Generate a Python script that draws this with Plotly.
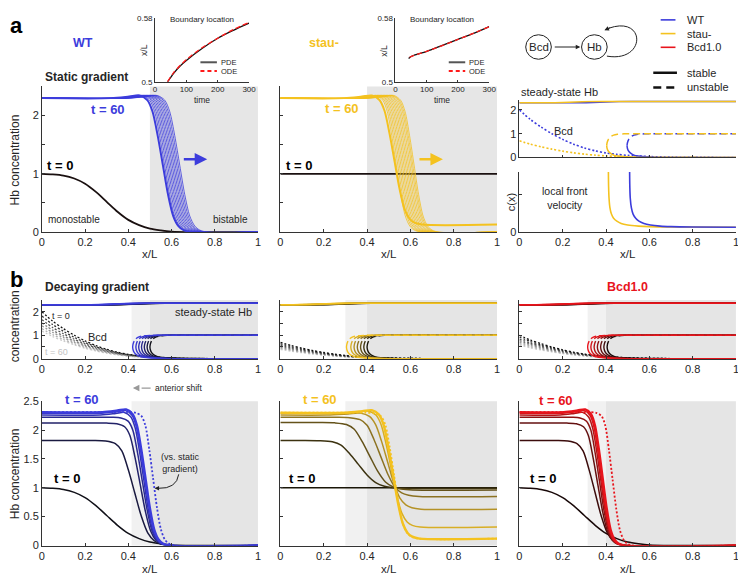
import plotly.graph_objects as go

W, H = 746, 582
OFF = 8  # the page body margin pushes the figure 8 px right and down
FONT = "Liberation Sans, Arial, Helvetica, sans-serif"

BLUE = "#3c3cdc"
YELLOW = "#f4c21f"
RED = "#e8141c"
INK = "#262626"

# ---------------- data ----------------
# Hb at t = 0 (graded Bcd input, WT / Bcd1.0)
t0_x = [0, 0.05, 0.1, 0.15, 0.2, 0.25, 0.3, 0.35, 0.4, 0.45, 0.5, 0.55, 0.6, 0.7, 1.0]
t0_y = [1.0, 0.99, 0.97, 0.92, 0.83, 0.69, 0.52, 0.35, 0.21, 0.12, 0.06, 0.03, 0.01, 0.0, 0.0]

# normalised front shape: offset in front widths -> fraction of the plateau
front_d = [-4.0, -2.6, -1.8, -1.2, -0.8, -0.4, 0.0, 0.4, 0.8, 1.2, 1.6, 2.2]
front_bump = [1.0, 1.012, 1.02, 0.985, 0.9, 0.72, 0.5, 0.28, 0.12, 0.045, 0.015, 0.0]
front_plain = [1.0, 1.0, 0.995, 0.97, 0.9, 0.72, 0.5, 0.28, 0.12, 0.045, 0.015, 0.0]

# a: static gradient, successive front positions
wt_static_mid = [0.56, 0.568, 0.575, 0.582, 0.589, 0.596, 0.603, 0.61, 0.617, 0.624, 0.631, 0.638]
wt_static_w = [0.06, 0.058, 0.058, 0.058, 0.058, 0.058, 0.058, 0.058, 0.058, 0.058, 0.058, 0.058]
stau_static_mid = [0.527, 0.535, 0.542, 0.549, 0.556, 0.563, 0.57, 0.577, 0.584, 0.591, 0.598, 0.605, 0.611, 0.617]
stau_static_floor = [0.13, 0, 0, 0, 0, 0, 0, 0, 0, 0, 0, 0, 0, 0]
stau_static_w = [0.058, 0.052, 0.052, 0.052, 0.052, 0.052, 0.052, 0.052, 0.052, 0.052, 0.052, 0.052, 0.052, 0.052]

# insets: boundary location vs time
wt_pde_t = [40, 60, 80, 100, 150, 200, 250, 300]
wt_pde_x = [0.5, 0.511, 0.52, 0.527, 0.542, 0.555, 0.565, 0.574]
wt_ode_t = [40, 60, 100, 150, 200, 250, 300]
wt_ode_x = [0.5, 0.512, 0.528, 0.543, 0.555, 0.566, 0.575]
stau_pde_t = [42, 50, 60, 100, 150, 200, 250, 300]
stau_pde_x = [0.5296, 0.532, 0.5336, 0.5384, 0.546, 0.5536, 0.561, 0.5696]
stau_ode_t = [45, 60, 100, 200, 300]
stau_ode_x = [0.531, 0.5335, 0.5385, 0.5535, 0.5695]

# Bcd profile (normalised)
bcd_x = [0, 0.05, 0.1, 0.15, 0.2, 0.25, 0.3, 0.35, 0.4, 0.45, 0.5, 0.6, 0.7, 0.85, 1.0]
bcd_p = [1.0, 0.8, 0.64, 0.5, 0.38, 0.28, 0.2, 0.14, 0.095, 0.065, 0.045, 0.02, 0.008, 0.002, 0.0]

# steady-state Hb: high branch rise, fold (unstable upper / stable lower)
hb_dx = [-0.12, -0.06, 0.0, 0.06, 0.12]
hb_y = [2.30, 2.31, 2.33, 2.35, 2.36]
fold_dx = [0, 0.002, 0.008, 0.018, 0.032, 0.05, 0.08, 0.12, 0.2]
fold_up = [0.5, 0.62, 0.76, 0.87, 0.94, 0.975, 0.995, 1.0, 1.0]
fold_lo = [0.5, 0.38, 0.26, 0.17, 0.1, 0.06, 0.03, 0.01, 0.0]

ss_rise = {"WT": 0.4, "stau-": 0.26}
ss_bcd = {"WT": 2.0, "stau-": 0.7}
ss_fold = {"WT": 0.497, "stau-": 0.403}

# local front velocity
vel_wt_x = [0.509, 0.51, 0.512, 0.517, 0.525, 0.537, 0.552, 0.575, 0.605, 0.65, 0.7, 0.8, 1.0]
vel_stau_x = [0.411, 0.412, 0.414, 0.418, 0.425, 0.435, 0.45, 0.47, 0.5, 0.55, 0.6, 0.7, 1.0]
vel_y = [1.6, 1.2, 0.9, 0.65, 0.48, 0.37, 0.29, 0.23, 0.19, 0.16, 0.145, 0.135, 0.13]

# b: decaying gradient, t = 0 ... 60
wt7 = ["#101018", "#1a1a40", "#222268", "#2a2a90", "#3232b4", "#3838cc", BLUE]
stau7 = ["#1a1608", "#3c3210", "#64521a", "#8c7222", "#b49226", "#d8ae24", YELLOW]
red7 = ["#180808", "#3c0c0c", "#641010", "#8c1212", "#b41416", "#d41418", RED]
gray7 = ["#111111", "#333333", "#555555", "#777777", "#999999", "#b3b3b3", "#cccccc"]

b_bcd_amp = {"WT": [2.0, 1.82, 1.66, 1.52, 1.4, 1.28, 1.18],
             "stau-": [0.7, 0.64, 0.58, 0.53, 0.48, 0.44, 0.4],
             "Bcd1.0": [1.0, 0.92, 0.84, 0.77, 0.7, 0.64, 0.58]}
b_fold = {"WT": [0.5, 0.487, 0.474, 0.461, 0.448, 0.435, 0.42],
          "stau-": [0.4, 0.385, 0.37, 0.355, 0.34, 0.325, 0.305],
          "Bcd1.0": [0.405, 0.39, 0.375, 0.36, 0.345, 0.33, 0.315]}
b_rise = {"WT": [0.45, 0.43, 0.41, 0.39, 0.37, 0.35, 0.33],
          "stau-": [0.3, 0.28, 0.26, 0.24, 0.22, 0.2, 0.18],
          "Bcd1.0": [0.32, 0.3, 0.28, 0.26, 0.24, 0.22, 0.2]}

wt_dec_L = [1.82, 2.12, 2.22, 2.26, 2.29, 2.31]
wt_dec_mid = [0.43, 0.455, 0.465, 0.472, 0.477, 0.48]
wt_dec_w = [0.075, 0.06, 0.055, 0.05, 0.05, 0.05]
stau_dec_L = [1.82, 2.13, 2.22, 2.26, 2.29, 2.3]
stau_dec_R = [0.99, 0.96, 0.85, 0.63, 0.32, 0.12]
stau_dec_mid = [0.36, 0.413, 0.464, 0.495, 0.513, 0.521]
stau_dec_w = [0.1, 0.09, 0.08, 0.07, 0.06, 0.055]
bcd1_dec_L = [1.82, 2.12, 2.22, 2.26, 2.29, 2.31]
bcd1_dec_mid = [0.35, 0.362, 0.37, 0.376, 0.38, 0.385]
bcd1_dec_w = [0.07, 0.055, 0.05, 0.047, 0.045, 0.045]
static_ref = {"WT": (2.31, 0.0, 0.515, 0.045), "stau-": (2.3, 0.12, 0.525, 0.05), "Bcd1.0": (2.31, 0.0, 0.43, 0.042)}

# ---------------- helpers ----------------
fig = go.Figure()


def ax_id(k):
    return ("x" if k == 1 else f"x{k}"), ("y" if k == 1 else f"y{k}")


def add_line(k, x, y, color, width=1.2, dash=None, shape="spline"):
    xa, ya = ax_id(k)
    fig.add_trace(go.Scatter(x=list(x), y=list(y), mode="lines", xaxis=xa, yaxis=ya,
                             line=dict(color=color, width=width, dash=dash, shape=shape, smoothing=0.8),
                             hoverinfo="skip", showlegend=False))


def front_curve(L, R, m, w, bump=False):
    f = front_bump if bump else front_plain
    xs, ys = [0.0], [L]
    for d, v in zip(front_d, f):
        x = m + d * w
        if 0 < x < 1:
            xs.append(x)
            ys.append(R + (L - R) * v)
    xs.append(1.0)
    ys.append(R)
    return xs, ys


def high_branch(c):
    return [0.0] + [c + d for d in hb_dx] + [1.0], [hb_y[0]] + hb_y + [hb_y[-1]]


def fold(xf):
    xs = [xf + d for d in fold_dx] + [1.0]
    return xs, fold_up + [1.0], fold_lo + [0.0]


def px_x(p):
    return (p - OFF) / W


def px_y(p):
    return 1 - (p - OFF) / H


def txt(x, y, s, size=11, color=INK, bold=False, anchor="center", angle=0):
    fig.add_annotation(x=px_x(x), y=px_y(y), xref="paper", yref="paper",
                       text=f"<b>{s}</b>" if bold else s, showarrow=False,
                       xanchor=anchor, yanchor="middle", textangle=angle,
                       font=dict(size=size, color=color, family=FONT))


def pline(x0, y0, x1, y1, color, width, dash=None):
    fig.add_shape(type="line", xref="paper", yref="paper", x0=px_x(x0), y0=px_y(y0),
                  x1=px_x(x1), y1=px_y(y1), line=dict(color=color, width=width, dash=dash))


def shade(k, x0, x1, color):
    xa, ya = ax_id(k)
    fig.add_shape(type="rect", xref=xa, yref=f"{ya} domain", x0=x0, x1=x1, y0=0, y1=1,
                  fillcolor=color, line_width=0, layer="below")


# ---------------- axes ----------------
COLS = [(39.3, 258.3), (281.0, 500.7), (523.3, 742.8)]
XT = [0, 0.2, 0.4, 0.6, 0.8, 1]
XL = ["0", "0.2", "0.4", "0.6", "0.8", "1"]
Y5 = [0, 0.5, 1, 1.5, 2]
Y6 = [0, 0.5, 1, 1.5, 2, 2.5]

panels = {
    1: dict(c=COLS[0], r=(82, 230.7), yr=[0, 2.5], yt=Y5, yl=["0", "", "1", "", "2"]),
    2: dict(c=COLS[1], r=(82, 230.7), yr=[0, 2.5], yt=Y5, yl=[""] * 5),
    3: dict(c=COLS[2], r=(96.2, 154.5), yr=[0, 2.4], yt=[0, 1, 2], yl=["0", "1", "2"], xtl=[""] * 6),
    4: dict(c=COLS[2], r=(169.3, 230.7), yr=[0, 1.6], yt=[0, 1], yl=["0", ""]),
    5: dict(c=(154, 249.3), r=(12.5, 77.3), xr=[0, 300], xt=[0, 100, 200, 300],
            xtl=["0", "100", "200", "300"], yr=[0.5, 0.58], yt=[0.5, 0.58], yl=["0.5", "0.58"], small=True),
    6: dict(c=(397.7, 492.7), r=(12.5, 77.3), xr=[0, 300], xt=[0, 100, 200, 300],
            xtl=["0", "100", "200", "300"], yr=[0.5, 0.58], yt=[0.5, 0.58], yl=["0.5", "0.58"], small=True),
    7: dict(c=COLS[0], r=(300, 360), yr=[0, 2.5], yt=Y5, yl=["0", "", "1", "", "2"]),
    8: dict(c=COLS[1], r=(300, 360), yr=[0, 2.5], yt=Y5, yl=[""] * 5),
    9: dict(c=COLS[2], r=(300, 360), yr=[0, 2.5], yt=Y5, yl=[""] * 5),
    10: dict(c=COLS[0], r=(403.3, 550.7), yr=[0, 2.5], yt=Y6, yl=["0", "0.5", "1", "1.5", "2", "2.5"]),
    11: dict(c=COLS[1], r=(403.3, 550.7), yr=[0, 2.5], yt=Y6, yl=[""] * 6),
    12: dict(c=COLS[2], r=(403.3, 550.7), yr=[0, 2.5], yt=Y6, yl=[""] * 6),
}

layout_axes = {}
for k, p in panels.items():
    xa, ya = ax_id(k)
    fs = 8 if p.get("small") else 11
    tl = 2 if p.get("small") else 3
    base = dict(showline=True, linecolor="#333", linewidth=0.8, ticks="inside", ticklen=tl,
                tickcolor="#333", tickwidth=0.8, showgrid=False, zeroline=False,
                tickfont=dict(size=fs, color=INK, family=FONT), tickmode="array")
    layout_axes["xaxis" if k == 1 else f"xaxis{k}"] = dict(
        base, domain=[px_x(p["c"][0]), px_x(p["c"][1])], range=p.get("xr", [0, 1]), anchor=ya,
        tickvals=p.get("xt", XT), ticktext=p.get("xtl", XL))
    layout_axes["yaxis" if k == 1 else f"yaxis{k}"] = dict(
        base, domain=[px_y(p["r"][1]), px_y(p["r"][0])], range=p["yr"], anchor=xa,
        tickvals=p["yt"], ticktext=p["yl"])

# ---------------- shading ----------------
shade(1, 0.5, 1, "#e6e6e6")
shade(2, 0.4, 1, "#e6e6e6")
for k in (7, 10):
    shade(k, 0.415, 0.5, "#f1f1f1")
    shade(k, 0.5, 1, "#e5e5e5")
for k in (8, 11):
    shade(k, 0.3, 0.4, "#f1f1f1")
    shade(k, 0.4, 1, "#e5e5e5")
for k in (9, 12):
    shade(k, 0.315, 0.4, "#f1f1f1")
    shade(k, 0.4, 1, "#e5e5e5")

# ---------------- a: static gradient ----------------
add_line(1, t0_x, t0_y, "#1a1010", 1.8)
for i, m in reversed(list(enumerate(wt_static_mid))):
    x, y = front_curve(2.3, 0.0, m, wt_static_w[i], bump=True)
    add_line(1, x, y, BLUE, 2.0 if i == 0 else 0.8)

add_line(2, [0, 1], [1.0, 1.0], "#1a1010", 1.8, shape="linear")
for i, m in reversed(list(enumerate(stau_static_mid))):
    x, y = front_curve(2.3, stau_static_floor[i], m, stau_static_w[i], bump=True)
    add_line(2, x, y, YELLOW, 2.0 if i == 0 else 0.8)

# steady states (right)
for name, col in (("WT", BLUE), ("stau-", YELLOW)):
    add_line(3, bcd_x, [ss_bcd[name] * v for v in bcd_p], col, 1.6, dash="2px,2px")
for name, col in (("WT", BLUE), ("stau-", YELLOW)):
    x, y = high_branch(ss_rise[name])
    add_line(3, x, y, col, 1.6)
    fx, up, lo = fold(ss_fold[name])
    add_line(3, fx, up, col, 1.5, dash="7px,4px")
    add_line(3, fx, lo, col, 1.5)

add_line(4, vel_stau_x, vel_y, YELLOW, 1.6)
add_line(4, vel_wt_x, vel_y, BLUE, 1.6)

# insets
add_line(5, wt_pde_t, wt_pde_x, "#111111", 1.3)
add_line(5, wt_ode_t, wt_ode_x, "#ff1a1a", 1.3, dash="5px,3px")
add_line(6, stau_pde_t, stau_pde_x, "#111111", 1.3)
add_line(6, stau_ode_t, stau_ode_x, "#ff1a1a", 1.3, dash="5px,3px")

# ---------------- b: decaying gradient ----------------
series = [
    ("WT", 7, 10, wt7, [0.0] * 6, wt_dec_L, wt_dec_mid, wt_dec_w),
    ("stau-", 8, 11, stau7, stau_dec_R, stau_dec_L, stau_dec_mid, stau_dec_w),
    ("Bcd1.0", 9, 12, red7, [0.0] * 6, bcd1_dec_L, bcd1_dec_mid, bcd1_dec_w),
]
for name, kt, kb, cols, R, L, M, Wd in series:
    amps = b_bcd_amp[name]
    for i in reversed(range(7)):
        add_line(kt, bcd_x, [amps[i] * v for v in bcd_p], gray7[i], 1.3, dash="2px,2px")
    for i in range(7):
        x, y = high_branch(b_rise[name][i])
        add_line(kt, x, y, cols[i], 1.5)
    for i in range(7):
        fx, up, lo = fold(b_fold[name][i])
        add_line(kt, fx, up, cols[i], 1.4, dash="6px,3px")
        add_line(kt, fx, lo, cols[i], 1.4)

    # bottom: Hb concentration over time
    if name == "stau-":
        add_line(kb, [0, 1], [1.0, 1.0], cols[0], 1.5, shape="linear")
    else:
        add_line(kb, t0_x, t0_y, cols[0], 1.5)
    for i in range(6):
        x, y = front_curve(L[i], R[i], M[i], Wd[i], bump=L[i] > 2.25)
        add_line(kb, x, y, cols[i + 1], 2.4 if i == 5 else 1.5)
    sL, sR, sm, sw = static_ref[name]
    x, y = front_curve(sL, sR, sm, sw)
    add_line(kb, x, y, cols[6], 1.8, dash="2px,2px")

# ---------------- text ----------------
txt(14, 20, "a", 22, "#000", True)
txt(14, 279, "b", 22, "#000", True)
txt(81, 38, "WT", 12.5, BLUE, True)
txt(325, 38, "stau-", 12.5, YELLOW, True)
txt(633, 287, "Bcd1.0", 12.5, RED, True)
txt(40, 72, "Static gradient", 12, INK, True, "left")
txt(40, 287, "Decaying gradient", 12, INK, True, "left")

txt(106, 106, "t = 60", 13, BLUE, True)
txt(58, 163, "t = 0", 13, "#000", True)
txt(72, 218, "monostable", 10)
txt(230, 218, "bistable", 10)
txt(344, 104, "t = 60", 13, YELLOW, True)
txt(300, 163, "t = 0", 13, "#000", True)

fig.add_annotation(x=0.765, y=1.25, ax=0.65, ay=1.25, xref="x", yref="y", axref="x", ayref="y",
                   showarrow=True, arrowhead=2, arrowsize=1, arrowwidth=2.5, arrowcolor=BLUE, text="")
fig.add_annotation(x=0.75, y=1.25, ax=0.635, ay=1.25, xref="x2", yref="y2", axref="x2", ayref="y2",
                   showarrow=True, arrowhead=2, arrowsize=1, arrowwidth=2.5, arrowcolor=YELLOW, text="")

txt(523, 87.5, "steady-state Hb", 11, INK, False, "left")
txt(568, 127, "Bcd", 11)
txt(570, 195.5, "local front<br>velocity", 10.5)

# axis titles
for c in COLS:
    txt((c[0] + c[1]) / 2, 253.5, "x/L", 11.5)
    txt((c[0] + c[1]) / 2, 575, "x/L", 11.5)
txt(12, 156.5, "Hb concentration", 12, angle=-90)
txt(515, 200, "c(x)", 11, angle=-90)
txt(12, 327, "concentration", 12, angle=-90)
txt(12, 477, "Hb concentration", 12, angle=-90)

# insets text
for cx, lx, ll in ((202, 143.5, 200), (445, 386.5, 451.7)):
    txt(cx, 13.5, "Boundary location", 8)
    txt(cx, 96, "time", 8.5)
    txt(lx, 45, "x/L", 8.5, angle=-90)
    pline(ll, 57.3, ll + 16.7, 57.3, "#555", 2)
    pline(ll, 66.3, ll + 16.7, 66.3, "#ff1a1a", 2, dash="4px,3px")
    txt(ll + 19, 57.3, "PDE", 7.5, INK, False, "left")
    txt(ll + 19, 66.3, "ODE", 7.5, INK, False, "left")

# b texts
txt(213, 312.5, "steady-state Hb", 11)
txt(59, 316, "t = 0", 9)
txt(54, 353.5, "t = 60", 9, "#c4c4c4")
txt(96, 338, "Bcd", 11)
txt(152, 390, "anterior shift", 8.5, INK, False, "left")
pline(149.5, 390, 136, 390, "#999", 1.3, dash="dashdot")
fig.add_annotation(x=px_x(131.5), y=px_y(390), ax=6, ay=0, xref="paper", yref="paper",
                   showarrow=True, arrowhead=2, arrowsize=1, arrowwidth=1.3, arrowcolor="#999", text="")
txt(80, 401.5, "t = 60", 13, BLUE, True)
txt(65, 482.5, "t = 0", 13, "#000", True)
txt(180, 466, "(vs. static<br>gradient)", 9)
fig.add_shape(type="path", xref="paper", yref="paper", line=dict(color="#222", width=1),
              path=f"M {px_x(178)},{px_y(478)} Q {px_x(176)},{px_y(493)} {px_x(157)},{px_y(492.3)}")
fig.add_annotation(x=px_x(153.5), y=px_y(492.3), ax=5, ay=0, xref="paper", yref="paper",
                   showarrow=True, arrowhead=2, arrowsize=0.9, arrowwidth=1, arrowcolor="#222", text="")
txt(321.5, 401.5, "t = 60", 13, YELLOW, True)
txt(303, 482, "t = 0", 13, "#000", True)
txt(560, 402.5, "t = 60", 13, RED, True)
txt(547.5, 482.5, "t = 0", 13, "#000", True)

# ---------------- network diagram and legend ----------------
for cx, lab in ((542.7, "Bcd"), (599.3, "Hb")):
    fig.add_shape(type="circle", xref="paper", yref="paper", x0=px_x(cx - 13), x1=px_x(cx + 13),
                  y0=px_y(41.7 + 12.5), y1=px_y(41.7 - 12.5), line=dict(color="#222", width=1))
    txt(cx, 41.7, lab, 11.5)
fig.add_annotation(x=px_x(585), y=px_y(41.7), ax=-27, ay=0, xref="paper", yref="paper",
                   showarrow=True, arrowhead=2, arrowsize=0.9, arrowwidth=1, arrowcolor="#222", text="")
fig.add_shape(type="path", xref="paper", yref="paper", line=dict(color="#222", width=1),
              path=(f"M {px_x(612)},{px_y(51)} C {px_x(652)},{px_y(58)} "
                    f"{px_x(652)},{px_y(9)} {px_x(614)},{px_y(22.5)}"))
fig.add_annotation(x=px_x(609.5), y=px_y(24.5), ax=7, ay=-3, xref="paper", yref="paper",
                   showarrow=True, arrowhead=2, arrowsize=0.9, arrowwidth=1, arrowcolor="#222", text="")

for yy, col, lab in ((14, BLUE, "WT"), (28, YELLOW, "stau-"), (42, RED, "Bcd1.0")):
    pline(666.5, yy, 681.5, yy, col, 1.6)
    txt(691, yy, lab, 11, INK, False, "left")
pline(659, 68, 683, 68, "#111", 2.5)
pline(659, 83, 683, 83, "#111", 2.5, dash="8px,5px")
txt(691, 68, "stable", 11, INK, False, "left")
txt(691, 83, "unstable", 11, INK, False, "left")

fig.update_layout(width=W, height=H, margin=dict(l=0, r=0, t=0, b=0),
                  paper_bgcolor="white", plot_bgcolor="rgba(0,0,0,0)", showlegend=False,
                  font=dict(family=FONT, color=INK), **layout_axes)

fig.write_html("out.html")
